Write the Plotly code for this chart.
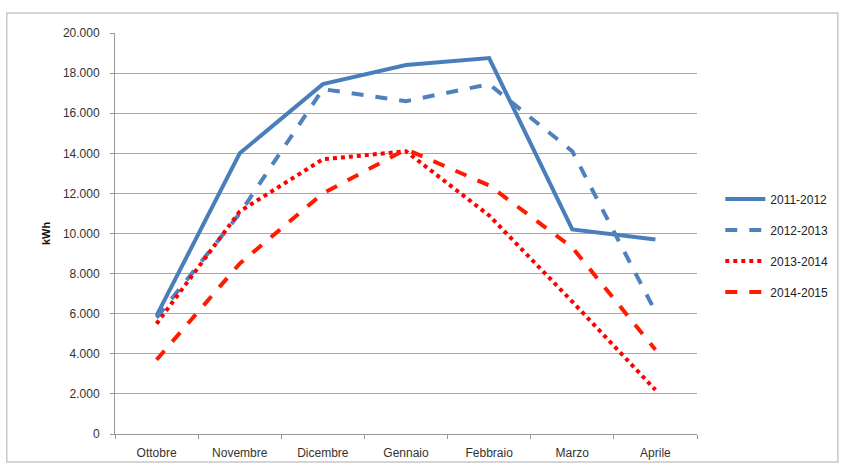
import plotly.graph_objects as go

mesi = ["Ottobre", "Novembre", "Dicembre", "Gennaio", "Febbraio", "Marzo", "Aprile"]

s_2011_2012 = [5900, 14000, 17450, 18400, 18750, 10200, 9700]
s_2012_2013 = [5800, 11000, 17200, 16600, 17450, 14100, 6100]
s_2013_2014 = [5500, 11100, 13700, 14100, 10900, 6600, 2200]
s_2014_2015 = [3700, 8500, 12000, 14200, 12400, 9300, 4200]

serie = [
    ("2011-2012", s_2011_2012, "#4a7ebb", "solid"),
    ("2012-2013", s_2012_2013, "#4f81bd", "dash"),
    ("2013-2014", s_2013_2014, "#ff0000", "dot"),
    ("2014-2015", s_2014_2015, "#ff1a00", "dash"),
]

fig = go.Figure()
for nome, valori, colore, tratto in serie:
    fig.add_trace(go.Scatter(
        x=mesi, y=valori, name=nome, mode="lines",
        legendgroup=nome,
        line=dict(color=colore, width=4, dash=tratto),
    ))

# cornice attorno al grafico
fig.add_shape(type="rect", xref="paper", yref="paper",
              x0=-0.186, x1=1.242, y0=-0.07, y1=1.05,
              line=dict(color="#c8c8c8", width=1.5), layer="below")

fig.update_layout(
    width=847, height=466,
    margin=dict(l=115, r=150, t=33, b=32),
    paper_bgcolor="white", plot_bgcolor="white",
    separators=",.",
    font=dict(family="Liberation Sans, Arial, sans-serif", size=12, color="#333333"),
    legend=dict(x=1.04, y=0.47, yanchor="middle", xanchor="left",
                tracegroupgap=12, font=dict(size=12, color="#222222"),
                itemwidth=40),
    xaxis=dict(range=[-0.5, 6.5], showline=True, linecolor="#9a9a9a", linewidth=1,
               ticks="outside", ticklen=4, tickcolor="#9a9a9a", automargin=False,
               tickson="boundaries", showgrid=False, ticklabelstandoff=8,
               tickfont=dict(size=12, color="#333333")),
    yaxis=dict(range=[0, 20000], dtick=2000, tickformat=",d",
               showline=True, linecolor="#9a9a9a", linewidth=1, automargin=False,
               ticks="outside", ticklen=4, tickcolor="#9a9a9a",
               gridcolor="#a8a8a8", gridwidth=1, zeroline=False,
               ticklabelstandoff=8,
               title=dict(text="<b>kWh</b>", font=dict(size=11, color="#111111"), standoff=10),
               tickfont=dict(size=12, color="#333333")),
)

fig.write_html("out.html", config={"displayModeBar": False},
               post_script="document.body.style.margin='0';")
